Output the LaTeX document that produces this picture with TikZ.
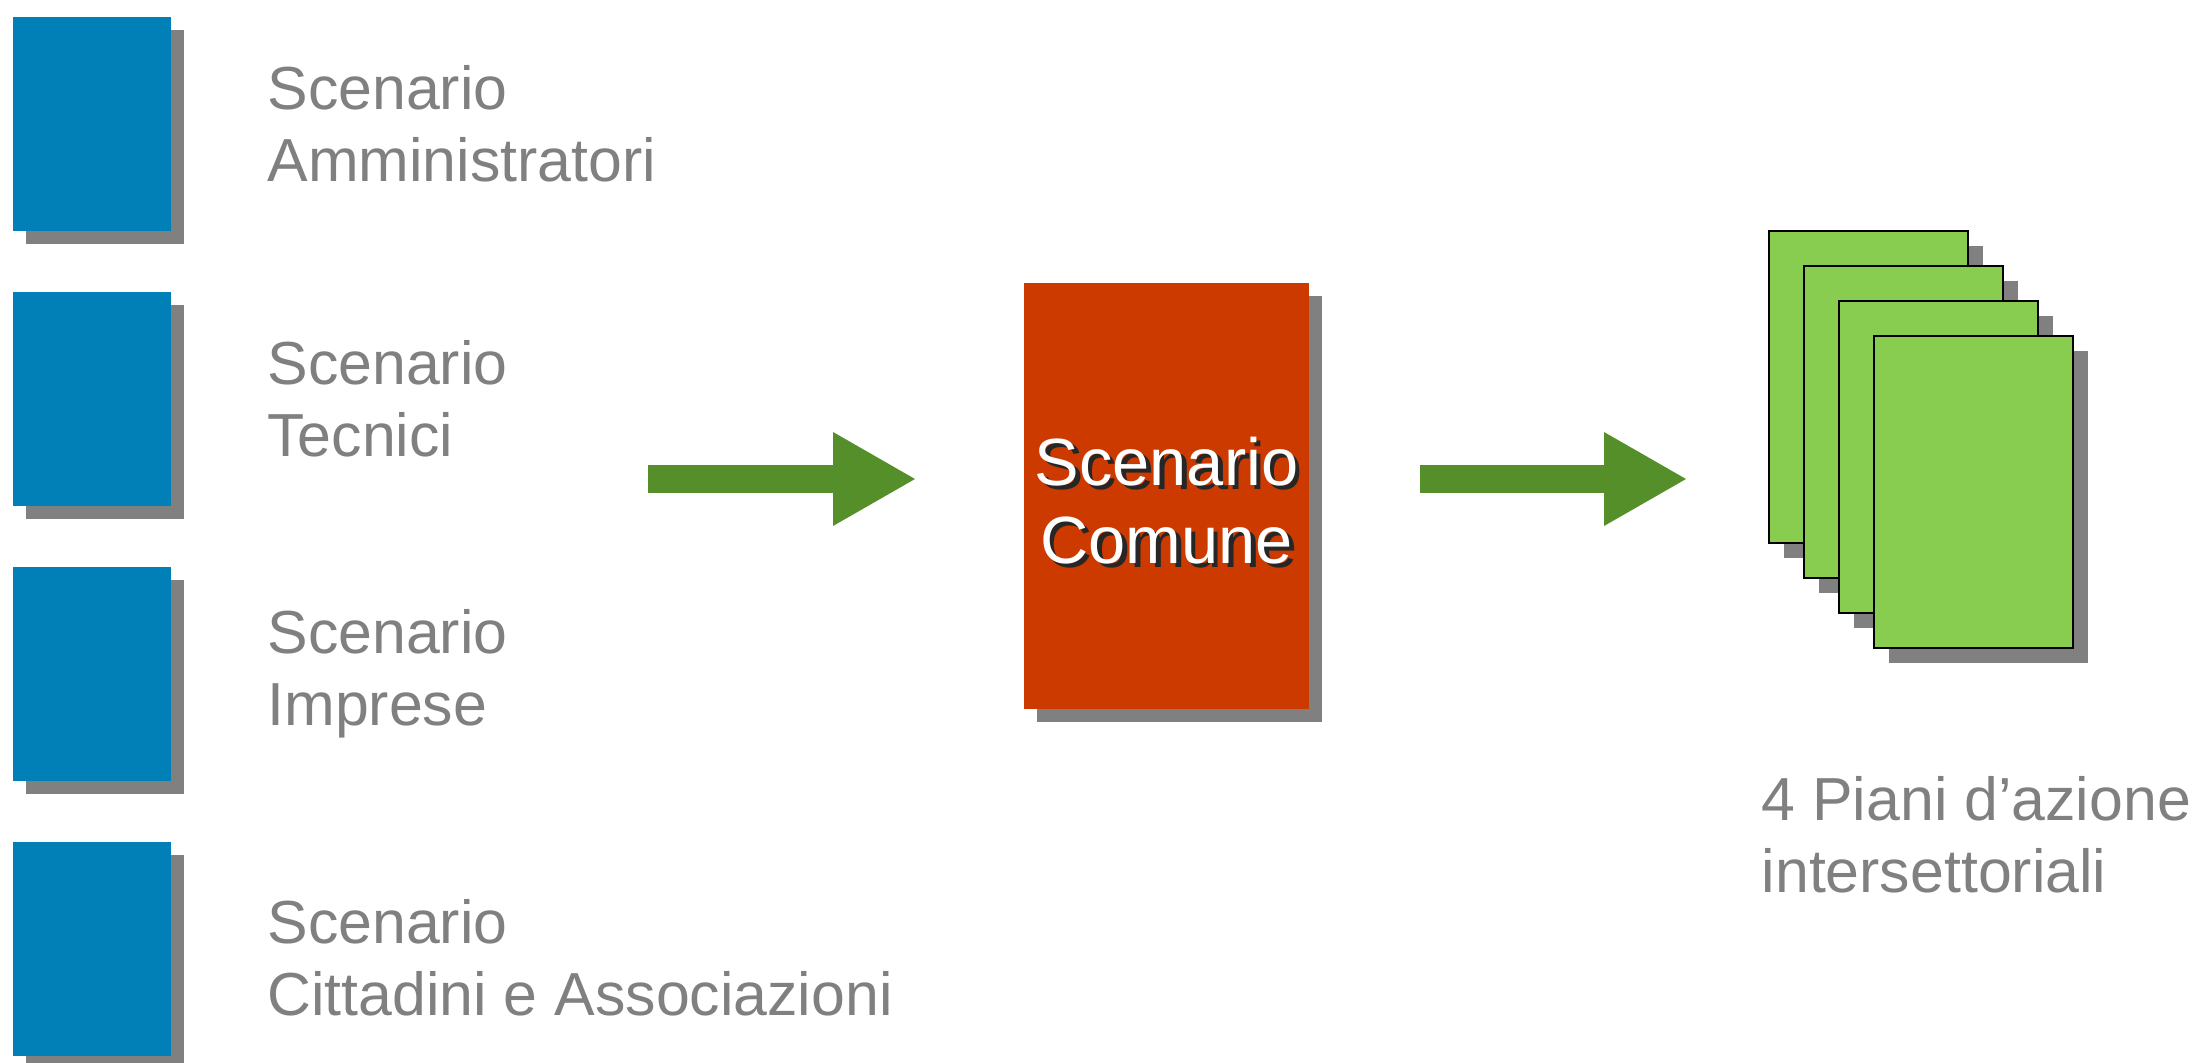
\documentclass[tikz,border=0pt]{standalone}
\usepackage{fontspec}
\setmainfont{Liberation Sans}
\usepackage{xcolor}
\usepackage{tikz}
\usetikzlibrary{arrows.meta,positioning,shadows}

\definecolor{scenBlue}{RGB}{0,128,182}
\definecolor{scenRed}{RGB}{204,58,0}
\definecolor{planGreen}{RGB}{136,204,80}
\definecolor{arrowGreen}{RGB}{85,143,41}

% white text with a dark offset copy behind it
\newcommand{\shtext}[1]{\makebox[0pt][l]{\raisebox{-0.07em}{\hspace{0.07em}\color{black!85}#1}}#1}

\begin{document}
\begin{tikzpicture}[
    node distance=0.61cm,
    shade/.style={drop shadow={shadow xshift=0.13cm, shadow yshift=-0.13cm, fill=black!50, opacity=1}},
    scen/.style={rectangle, fill=scenBlue, minimum width=1.58cm, minimum height=2.14cm, inner sep=0pt, outer sep=0pt, shade},
    lbl/.style={text=black!50, align=left, inner sep=0pt, font=\fontsize{17.3}{20.5}\selectfont},
    common/.style={rectangle, fill=scenRed, minimum width=2.85cm, minimum height=4.26cm, inner sep=0pt, text=white, align=center, font=\fontsize{19}{22.2}\selectfont, shade},
    plan/.style={rectangle, draw=black, line width=0.6pt, fill=planGreen, minimum width=1.99cm, minimum height=3.12cm, inner sep=0pt,
        drop shadow={shadow xshift=0.15cm, shadow yshift=-0.15cm, fill=black!50, opacity=1}},
    arrow/.style={-{Triangle[length=0.82cm, width=0.94cm, line width=0pt]}, line width=0.28cm, arrowGreen}
]
    \useasboundingbox (0,0) rectangle (22,-10.62);

    % Scenario boxes
    \node[scen] (adm) at (0.918,-1.24) {};
    \node[scen, below=of adm] (tec) {};
    \node[scen, below=of tec] (imp) {};
    \node[scen, below=of imp] (cit) {};

    \node[lbl, right=0.96cm of adm] (ladm) {Scenario\\Amministratori};
    \node[lbl, right=0.96cm of tec] (ltec) {Scenario\\Tecnici};
    \node[lbl, right=0.96cm of imp] (limp) {Scenario\\Imprese};
    \node[lbl, right=0.96cm of cit, yshift=-0.09cm] (lcit) {Scenario\\Cittadini e Associazioni};

    % Common scenario
    \node[common] (com) at (11.665,-4.96) {\rule{0pt}{17.5pt}\shtext{Scenario}\\\shtext{Comune}};

    % Action plans
    \foreach \i in {0,...,3}
        \node[plan] (pg\i) at (18.685+0.35*\i,-3.87-0.35*\i) {};
    \node[lbl, anchor=west] (lpl) at (17.61,-8.35) {4 Piani d’azione\\intersettoriali};

    % Arrows
    \coordinate (a1s) at (6.48,-4.79);
    \coordinate (a1e) at (9.15,-4.79);
    \coordinate (a2s) at (14.20,-4.79);
    \coordinate (a2e) at (16.86,-4.79);
    \draw[arrow] (a1s) -- (a1e);
    \draw[arrow] (a2s) -- (a2e);
\end{tikzpicture}
\end{document}
